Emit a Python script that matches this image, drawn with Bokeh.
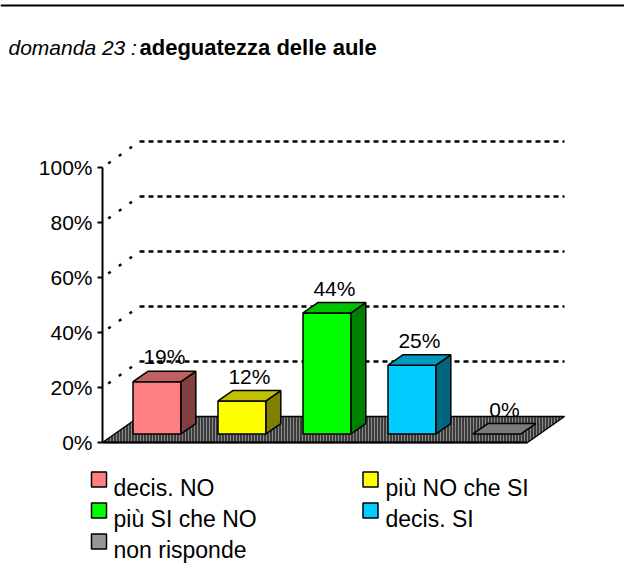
from bokeh.plotting import figure
from bokeh.models import Range1d, LinearAxis, FixedTicker
from bokeh.core.properties import value
from bokeh.embed import file_html
from bokeh.resources import INLINE

# ---------------- data ----------------
TITLE_Q = "domanda 23 :"
TITLE_T = "adeguatezza delle aule"
CATEGORIES = ["decis. NO", "più NO che SI", "più SI che NO", "decis. SI", "non risponde"]
VALUES = [19, 12, 44, 25, 0]
VALUE_LABELS = ["19%", "12%", "44%", "25%", "0%"]
TICKS = [0, 20, 40, 60, 80, 100]
TICK_LABELS = ["0%", "20%", "40%", "60%", "80%", "100%"]
FRONT_COLORS = ["#FF8080", "#FFFF00", "#00FF00", "#00CCFF", "#969696"]
TOP_COLORS = ["#C06060", "#C0C000", "#00C000", "#0099C0", "#7A7A7A"]
SIDE_COLORS = ["#804040", "#808000", "#008000", "#006680", "#4B4B4B"]

# ---------------- layout (figure pixels) ----------------
FONT = "Liberation Sans"
W_FIG, H_FIG = 624, 564
ORIGIN_X, ORIGIN_Y = 102.0, 442.0      # front-left corner of floor
SLOT_PX, PCT_PX = 85.0, 2.75           # px per category slot, px per percent
DX, DY = 37.0 / SLOT_PX, 26.0 / PCT_PX  # full depth offset in data units
GAP, BAR_W = 18.3 / SLOT_PX, 48.0 / SLOT_PX
D0, BD = 0.33, 0.40                     # bar front depth, bar depth (fractions)
LABEL_OFF = 7.1                         # label baseline above top-face centre (%)


def X(px):
    return (px - ORIGIN_X) / SLOT_PX


def Y(py):
    return (ORIGIN_Y - py) / PCT_PX


N = len(VALUES)

p = figure(width=W_FIG, height=H_FIG,
           x_range=Range1d(X(0), X(W_FIG)),
           y_range=Range1d(Y(H_FIG), Y(0)),
           output_backend="svg", toolbar_location=None,
           x_axis_location=None, y_axis_location=None,
           min_border=0, title=None)
p.outline_line_color = None
p.xgrid.visible = False
p.ygrid.visible = False
p.background_fill_color = "white"
p.border_fill_color = "white"

# top rule
p.segment(x0=[X(0)], y0=[Y(5)], x1=[X(W_FIG)], y1=[Y(5)],
          line_color="black", line_width=2)

# title
p.text(x=[X(8)], y=[Y(47)], text=[TITLE_Q], text_font=value(FONT), text_font_size="21px",
       text_font_style="italic", text_baseline="alphabetic", text_align="left", text_color="black")
p.text(x=[X(139)], y=[Y(47)], text=[TITLE_T], text_font=value(FONT), text_font_size="22px",
       text_font_style="bold", text_baseline="alphabetic", text_align="left", text_color="black")

# gridlines (back wall + diagonals)
grid_t = [t for t in TICKS if t > 0]
p.segment(x0=[DX] * len(grid_t), y0=[t + DY for t in grid_t],
          x1=[N + DX] * len(grid_t), y1=[t + DY for t in grid_t],
          line_color="black", line_width=2.5, line_dash="5 4")
p.segment(x0=[0] * len(grid_t), y0=grid_t,
          x1=[DX] * len(grid_t), y1=[t + DY for t in grid_t],
          line_color="black", line_width=2.5, line_dash="3 10", line_dash_offset=-7)

# floor
p.patch(x=[0, N, N + DX, DX], y=[0, 0, DY, DY], fill_color="#3c3c3c",
        hatch_pattern="vertical_line", hatch_color="#8a8a8a", hatch_scale=3, hatch_weight=1,
        line_color="black", line_width=1.5)
p.segment(x0=[0], y0=[0], x1=[N], y1=[0], line_color="black", line_width=2)

# bars
ox, oy = BD * DX, BD * DY
x0s = [i + GAP + D0 * DX for i in range(N)]
x1s = [x + BAR_W for x in x0s]
ybs = [D0 * DY] * N
yts = [D0 * DY + v for v in VALUES]

front_idx = [i for i in range(N) if VALUES[i] > 0]
p.quad(left=[x0s[i] for i in front_idx], right=[x1s[i] for i in front_idx],
       bottom=[ybs[i] for i in front_idx], top=[yts[i] for i in front_idx],
       fill_color=[FRONT_COLORS[i] for i in front_idx], line_color="black", line_width=1.5)
p.patches(xs=[[x1s[i], x1s[i] + ox, x1s[i] + ox, x1s[i]] for i in front_idx],
          ys=[[ybs[i], ybs[i] + oy, yts[i] + oy, yts[i]] for i in front_idx],
          fill_color=[SIDE_COLORS[i] for i in front_idx], line_color="black", line_width=1.5)
p.patches(xs=[[x0s[i], x1s[i], x1s[i] + ox, x0s[i] + ox] for i in range(N)],
          ys=[[yts[i], yts[i], yts[i] + oy, yts[i] + oy] for i in range(N)],
          fill_color=TOP_COLORS, line_color="black", line_width=1.5)

# value labels
p.text(x=[x0s[i] + BAR_W / 2 + ox / 2 for i in range(N)],
       y=[yts[i] + oy / 2 + LABEL_OFF for i in range(N)],
       text=VALUE_LABELS, text_font=value(FONT), text_font_size="21px",
       text_align="center", text_baseline="alphabetic", text_color="black")

# y axis
yax = LinearAxis(fixed_location=0, bounds=(0, 100), ticker=FixedTicker(ticks=TICKS),
                 major_label_overrides={t: l for t, l in zip(TICKS, TICK_LABELS)},
                 axis_line_width=2, axis_line_color="black",
                 major_tick_line_width=2, major_tick_line_color="black",
                 major_tick_out=5, major_tick_in=0, minor_tick_line_color=None,
                 major_label_text_font=FONT, major_label_text_font_size="21px",
                 major_label_text_color="black", major_label_standoff=5)
p.add_layout(yax, "left")

# legend (manual, 2 columns)
LEG_SW_X = [98.5, 370.0]
LEG_TX_X = [113.0, 385.0]
LEG_BASE = [487.0, 518.0, 549.0]
rows = [i // 2 for i in range(N)]
cols = [i % 2 for i in range(N)]
p.rect(x=[X(LEG_SW_X[c]) for c in cols], y=[Y(LEG_BASE[r] - 8) for r in rows],
       width=15, height=15, width_units="screen", height_units="screen",
       fill_color=FRONT_COLORS, line_color="black", line_width=1.5)
p.text(x=[X(LEG_TX_X[c]) for c in cols], y=[Y(LEG_BASE[r]) for r in rows],
       text=CATEGORIES, text_font=value(FONT), text_font_size="23px",
       text_align="left", text_baseline="alphabetic", text_color="black")

open("out.html", "w").write(file_html(p, INLINE))
